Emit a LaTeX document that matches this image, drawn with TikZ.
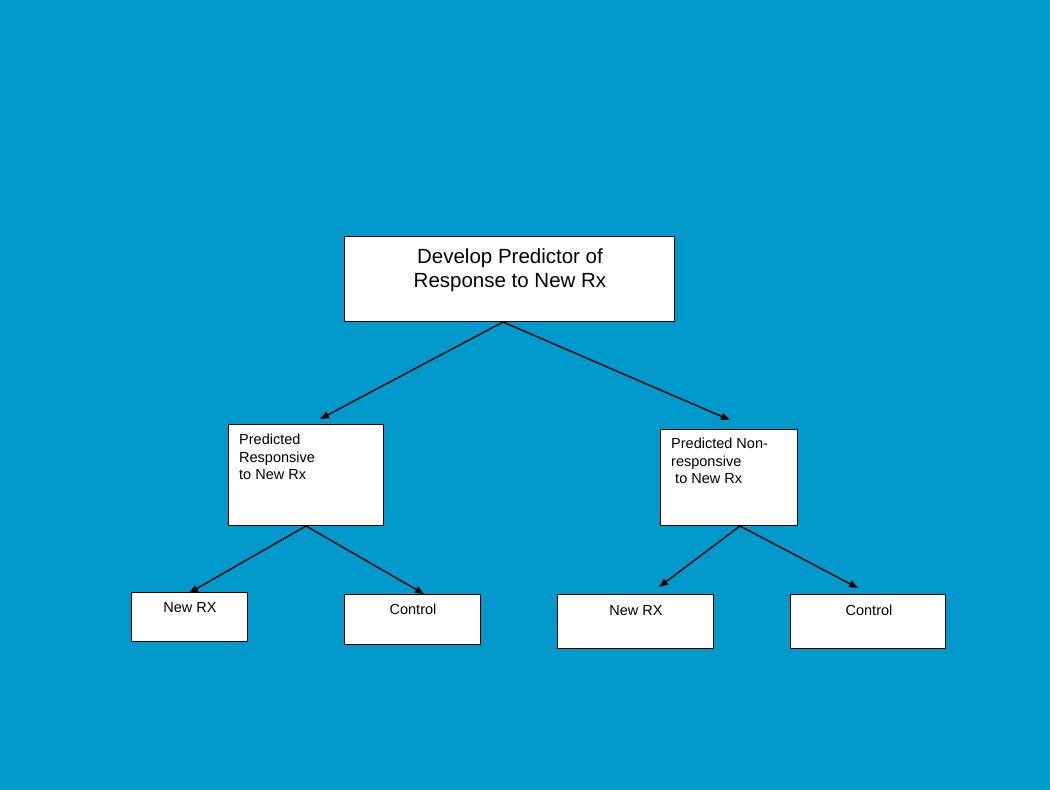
\documentclass[tikz,border=0pt]{standalone}
\usepackage{fontspec}
\setmainfont{Liberation Sans}
\usetikzlibrary{arrows.meta}
\definecolor{bg}{RGB}{0,153,204}
\begin{document}
\begin{tikzpicture}[x=1pt,y=-1pt,
  box/.style={draw=black,fill=white,line width=1.4pt,inner sep=0pt,anchor=north west},
  big/.style={font=\fontsize{20.5}{24}\selectfont,align=center,inner sep=0pt,anchor=north},
  small/.style={font=\fontsize{14.5}{17.5}\selectfont,align=left,inner sep=0pt,anchor=north west},
  lbl/.style={font=\fontsize{14.5}{17.5}\selectfont,inner sep=0pt,anchor=base},
  arr/.style={line width=1.4pt,-{Triangle[length=9pt,width=7pt]}}]
\fill[bg] (0,0) rectangle (1050,790);
\useasboundingbox (0,0) rectangle (1050,790);
% boxes
\node[box,minimum width=330pt,minimum height=85pt] (top) at (344,236) {};
\node[box,minimum width=155pt,minimum height=101pt] (pr) at (228,424) {};
\node[box,minimum width=137pt,minimum height=96pt] (pn) at (660,429) {};
\node[box,minimum width=116pt,minimum height=49pt] (nr1) at (131,592) {};
\node[box,minimum width=136pt,minimum height=50pt] (c1) at (344,594) {};
\node[box,minimum width=156pt,minimum height=54pt] (nr2) at (557,594) {};
\node[box,minimum width=155pt,minimum height=54pt] (c2) at (790,594) {};
% texts
\node[big] (toptxt) at (510,248) {Develop Predictor of\\Response to New Rx};
\node[small] (prtxt) at (239,434) {Predicted\\Responsive\\to New Rx};
\node[small] (pntxt) at (671,438) {Predicted Non-\\responsive\\\ to New Rx};
\node[lbl] (nr1txt) at (190,612) {New RX};
\node[lbl] (c1txt) at (413,614) {Control};
\node[lbl] (nr2txt) at (636,615) {New RX};
\node[lbl] (c2txt) at (869,615) {Control};
% arrow ends
\coordinate (a1) at (320,419);
\coordinate (a2) at (730,420);
\coordinate (b1) at (189,593);
\coordinate (b2) at (424,594);
\coordinate (d1) at (659,587);
\coordinate (d2) at (858,588);
\coordinate (s0) at (503,322);
\coordinate (s1) at (306,526);
\coordinate (s2) at (740,526);
\draw[arr] (s0) -- (a1);
\draw[arr] (s0) -- (a2);
\draw[arr] (s1) -- (b1);
\draw[arr] (s1) -- (b2);
\draw[arr] (s2) -- (d1);
\draw[arr] (s2) -- (d2);
\end{tikzpicture}
\end{document}
